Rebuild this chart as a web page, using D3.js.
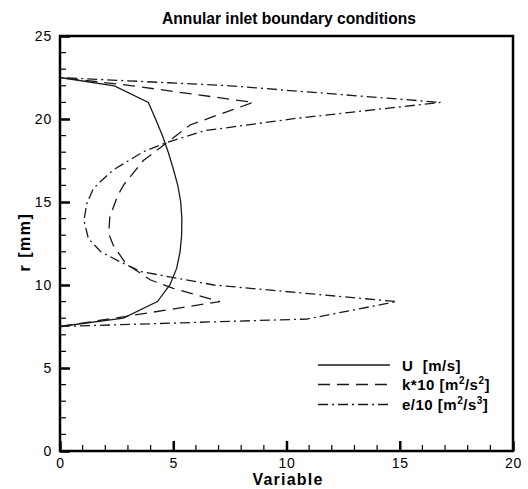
<!DOCTYPE html>
<html><head><meta charset="utf-8">
<script src="https://cdn.jsdelivr.net/npm/d3@7"></script>
<style>
body{margin:0;background:#fff;}
text{font-family:"Liberation Sans",Arial,sans-serif;fill:#000;}
</style></head>
<body><svg id="chart" width="528" height="489"></svg>
<script>
const title = "Annular inlet boundary conditions";
const xLabel = "Variable";
const yLabel = "r [mm]";
const xTicks = [0, 5, 10, 15, 20];
const yTicks = [0, 5, 10, 15, 20, 25];

// each point: [variable value, r (mm)]
const uValues = [[0,7.5],[2.8,8],[4.3,9],[4.85,10],[5.15,11],[5.3,12],[5.37,13],[5.38,14],[5.33,15],[5.2,16],[5.0,17],[4.78,18],[4.52,19],[4.22,20],[3.9,21],[2.4,22],[0,22.5]];
const kValues = [[0,7.5],[2.4,8],[7.06,9],[5.0,9.8],[4.0,10.3],[2.9,11.3],[2.35,12.4],[2.15,13.1],[2.2,14.1],[2.55,15.4],[2.85,16.1],[3.68,17.5],[5.74,19.64],[6.76,20.14],[8.53,21],[3.2,22],[0,22.5]];
const eValues = [[0,7.5],[10.9,7.95],[14.86,9],[6.8,10],[3.6,10.8],[2.65,11.4],[1.8,12],[1.25,12.8],[1.06,13.9],[1.18,14.9],[1.47,15.8],[1.84,16.3],[2.35,16.93],[3.68,18.03],[4.68,18.57],[6.4,19.3],[10.5,20.05],[16.8,21],[7.5,22],[0,22.5]];

const series = [
  {name:"U", unit:["  [m/s]"], data:uValues, dash:null},
  {name:"k*10", unit:["m","2","/s","2"], data:kValues, dash:"12,7"},
  {name:"e/10", unit:["m","2","/s","3"], data:eValues, dash:"10,4,2,4"}
];

const svg = d3.select("#chart");
const L=60, R=513, T=36, B=451;
const x = d3.scaleLinear().domain([0,20]).range([L,R]);
const y = d3.scaleLinear().domain([0,25]).range([B,T]);

// curves
const line = d3.line().x(d=>x(d[0])).y(d=>y(d[1]));
series.forEach(s=>{
  svg.append("path").attr("d", line(s.data)).attr("fill","none")
    .attr("stroke","#1a1a1a").attr("stroke-width",1.3)
    .attr("stroke-dasharray", s.dash);
});

// frame
svg.append("rect").attr("x",L).attr("y",T).attr("width",R-L).attr("height",B-T)
  .attr("fill","none").attr("stroke","#000").attr("stroke-width",2.5);

// ticks (inside)
const xMinor = d3.range(0,21,1), yMinor = d3.range(0,26,1);
const xAxis = d3.axisBottom(x).tickValues(xTicks).tickSize(-10).tickPadding(7).tickFormat(d3.format("d"));
const gx = svg.append("g").attr("transform",`translate(0,${B})`).call(xAxis);
const yAxis = d3.axisLeft(y).tickValues(yTicks).tickSize(-10).tickPadding(8).tickFormat(d3.format("d"));
const gy = svg.append("g").attr("transform",`translate(${L},0)`).call(yAxis);
[gx,gy].forEach(g=>{
  g.select(".domain").remove();
  g.selectAll(".tick line").attr("stroke","#000").attr("stroke-width",2.5);
  g.selectAll(".tick text").attr("font-size",14).attr("letter-spacing",0.8).attr("fill","#000");
});
svg.append("g").selectAll("line").data(xMinor.filter(v=>v%5)).join("line")
  .attr("x1",d=>x(d)).attr("x2",d=>x(d)).attr("y1",B).attr("y2",B-6)
  .attr("stroke","#000").attr("stroke-width",1.2);
svg.append("g").selectAll("line").data(yMinor.filter(v=>v%5)).join("line")
  .attr("y1",d=>y(d)).attr("y2",d=>y(d)).attr("x1",L).attr("x2",L+6)
  .attr("stroke","#000").attr("stroke-width",1.2);

// title and labels
svg.append("text").attr("x",289).attr("y",24).attr("text-anchor","middle")
  .attr("font-size",15.6).attr("font-weight","bold").text(title);
svg.append("text").attr("x",288).attr("y",485).attr("text-anchor","middle")
  .attr("font-size",16).attr("letter-spacing",1.2).attr("font-weight","bold").text(xLabel);
svg.append("text").attr("transform",`translate(30,242) rotate(-90)`).attr("text-anchor","middle")
  .attr("font-size",16).attr("letter-spacing",1.5).attr("font-weight","bold").text(yLabel);

// legend
const legY = [365, 384.5, 404.5];
series.forEach((s,i)=>{
  svg.append("line").attr("x1",318).attr("x2",390).attr("y1",legY[i]).attr("y2",legY[i])
    .attr("stroke","#1a1a1a").attr("stroke-width",1.3).attr("stroke-dasharray",s.dash);
  const t = svg.append("text").attr("x",402).attr("y",legY[i]+5.5)
    .attr("font-size",15).attr("letter-spacing",0.5).attr("font-weight","bold")
    .attr("xml:space","preserve").style("white-space","pre");
  t.append("tspan").text(s.name);
  if (s.unit.length===1) {
    t.append("tspan").text(s.unit[0]);
  } else {
    t.append("tspan").text(" [" + s.unit[0]);
    t.append("tspan").attr("dy",-6).attr("font-size",10).text(s.unit[1]);
    t.append("tspan").attr("dy",6).text(s.unit[2]);
    t.append("tspan").attr("dy",-6).attr("font-size",10).text(s.unit[3]);
    t.append("tspan").attr("dy",6).text("]");
  }
});
</script></body></html>
